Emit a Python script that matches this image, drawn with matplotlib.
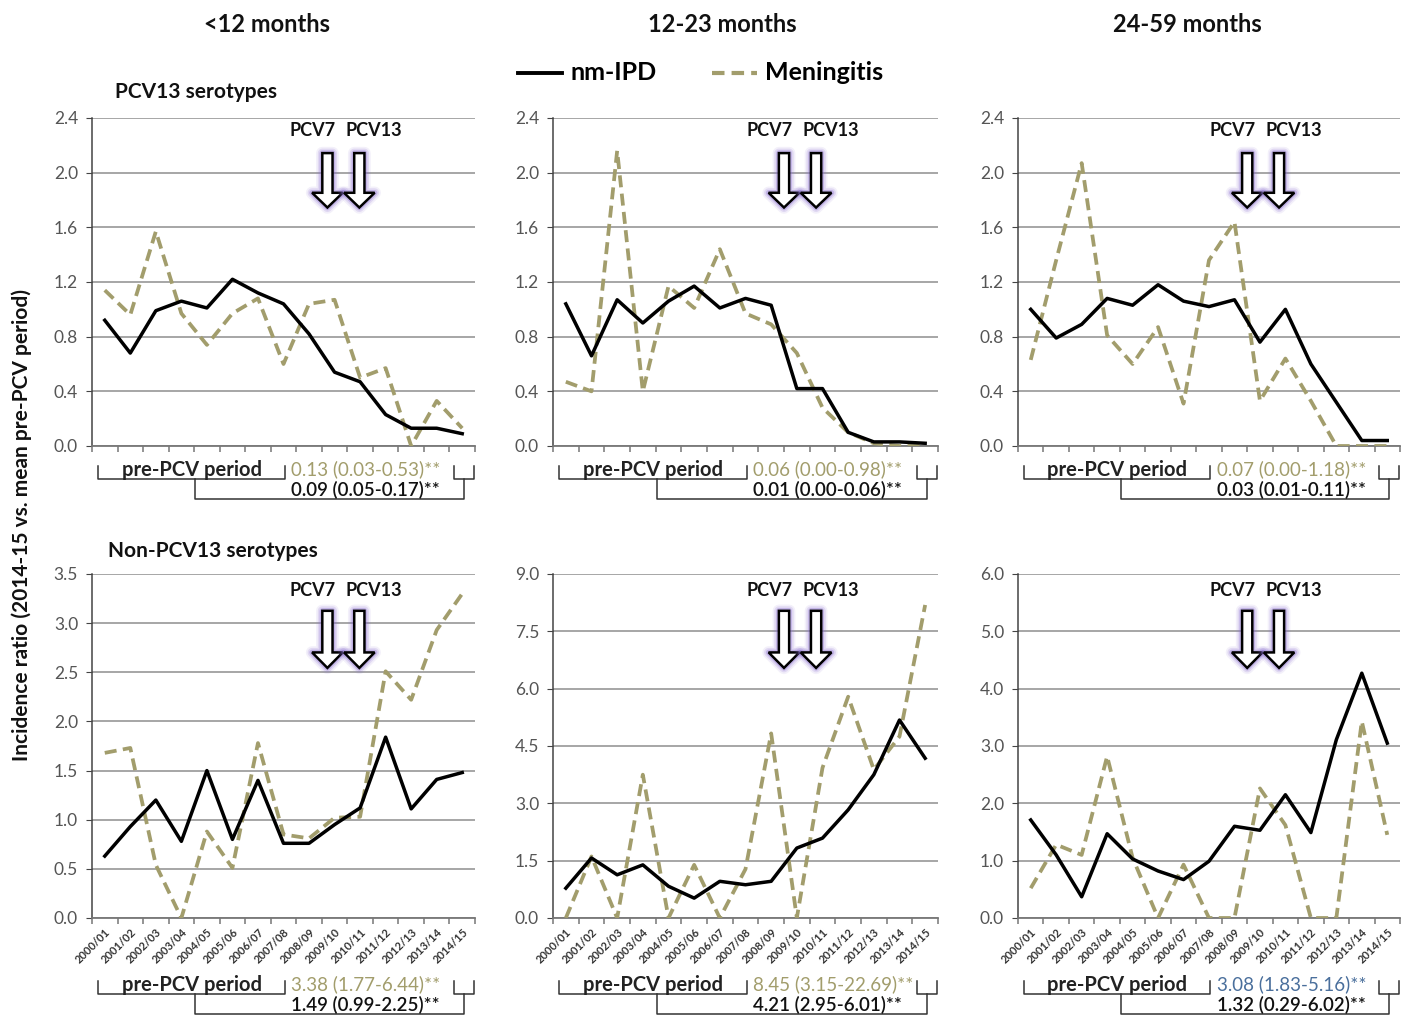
import matplotlib
matplotlib.use("Agg")
import matplotlib.pyplot as plt
import matplotlib.patheffects as pe
from matplotlib.patches import Polygon
from matplotlib.transforms import blended_transform_factory
import numpy as np

plt.rcParams['font.family'] = ['Lato', 'DejaVu Sans']

seasons = ['2000/01', '2001/02', '2002/03', '2003/04', '2004/05', '2005/06',
           '2006/07', '2007/08', '2008/09', '2009/10', '2010/11', '2011/12',
           '2012/13', '2013/14', '2014/15']
age_groups = ['<12 months', '12-23 months', '24-59 months']

# incidence ratios vs. mean pre-PCV period, PCV13 serotypes
ipd_pcv13_lt12 = [0.92, 0.68, 0.99, 1.06, 1.01, 1.22, 1.12, 1.04, 0.82, 0.54, 0.47, 0.23, 0.13, 0.13, 0.09]
men_pcv13_lt12 = [1.14, 0.96, 1.57, 0.97, 0.74, 0.97, 1.08, 0.60, 1.04, 1.07, 0.50, 0.57, 0.00, 0.33, 0.13]
ipd_pcv13_12_23 = [1.04, 0.66, 1.07, 0.90, 1.06, 1.17, 1.01, 1.08, 1.03, 0.42, 0.42, 0.10, 0.03, 0.03, 0.02]
men_pcv13_12_23 = [0.47, 0.40, 2.16, 0.40, 1.17, 1.01, 1.44, 0.97, 0.89, 0.68, 0.28, 0.10, 0.02, 0.00, 0.00]
ipd_pcv13_24_59 = [1.00, 0.79, 0.89, 1.08, 1.03, 1.18, 1.06, 1.02, 1.07, 0.76, 1.00, 0.60, 0.32, 0.04, 0.04]
men_pcv13_24_59 = [0.63, 1.36, 2.07, 0.81, 0.60, 0.87, 0.31, 1.36, 1.64, 0.33, 0.64, 0.33, 0.00, 0.00, 0.00]

# non-PCV13 serotypes
ipd_non_lt12 = [0.63, 0.93, 1.20, 0.78, 1.50, 0.80, 1.40, 0.76, 0.76, 0.95, 1.12, 1.84, 1.11, 1.41, 1.48]
men_non_lt12 = [1.68, 1.73, 0.54, 0.00, 0.88, 0.51, 1.78, 0.85, 0.81, 1.02, 1.03, 2.51, 2.22, 2.93, 3.30]
ipd_non_12_23 = [0.78, 1.57, 1.13, 1.39, 0.83, 0.52, 0.96, 0.87, 0.96, 1.83, 2.09, 2.83, 3.75, 5.18, 4.18]
men_non_12_23 = [0.00, 1.61, 0.00, 3.75, 0.00, 1.39, 0.00, 1.28, 4.83, 0.00, 3.93, 5.79, 3.88, 4.75, 8.19]
ipd_non_24_59 = [1.71, 1.10, 0.37, 1.47, 1.03, 0.82, 0.67, 0.99, 1.60, 1.53, 2.15, 1.49, 3.11, 4.27, 3.05]
men_non_24_59 = [0.52, 1.28, 1.10, 2.82, 1.05, 0.00, 0.93, 0.00, 0.00, 2.26, 1.62, 0.00, 0.00, 3.43, 1.45]

ipd_rows = [[ipd_pcv13_lt12, ipd_pcv13_12_23, ipd_pcv13_24_59],
            [ipd_non_lt12, ipd_non_12_23, ipd_non_24_59]]
men_rows = [[men_pcv13_lt12, men_pcv13_12_23, men_pcv13_24_59],
            [men_non_lt12, men_non_12_23, men_non_24_59]]

# 2014-15 incidence ratio (95% CI)
men_stats = [['0.13 (0.03-0.53)**', '0.06 (0.00-0.98)**', '0.07 (0.00-1.18)**'],
             ['3.38 (1.77-6.44)**', '8.45 (3.15-22.69)**', '3.08 (1.83-5.16)**']]
ipd_stats = [['0.09 (0.05-0.17)**', '0.01 (0.00-0.06)**', '0.03 (0.01-0.11)**'],
             ['1.49 (0.99-2.25)**', '4.21 (2.95-6.01)**', '1.32 (0.29-6.02)**']]
y_max = [[2.4, 2.4, 2.4], [3.5, 9.0, 6.0]]
y_step = [[0.4, 0.4, 0.4], [0.5, 1.5, 1.0]]

OLIVE = '#a29d6c'
BLUE = '#4a6f9c'
GRID = '#a6a6a6'
GLOW = '#8a6fd0'

W, H = 1404, 1016
fig = plt.figure(figsize=(W / 100, H / 100), dpi=100)

col_px = [(92, 475), (553, 938), (1018, 1400)]
row_px = [(118, 446), (574, 918)]
title_px = [267, 722, 1187]
arrow_shift = [0.22, 0.0, 0.0]

x = np.arange(len(seasons))


def draw_arrow(ax, xc):
    tr = blended_transform_factory(ax.transData, ax.transAxes)
    sw, hw = 0.2, 0.6
    top, base, tip = 0.893, 0.772, 0.727
    pts = [(xc - sw, top), (xc + sw, top), (xc + sw, base), (xc + hw, base),
           (xc, tip), (xc - hw, base), (xc - sw, base)]
    poly = Polygon(pts, closed=True, transform=tr, facecolor='white',
                   edgecolor='black', lw=1.8, zorder=6, clip_on=False)
    poly.set_path_effects([
        pe.Stroke(linewidth=9, foreground=GLOW, alpha=0.10, joinstyle='round'),
        pe.Stroke(linewidth=6.5, foreground=GLOW, alpha=0.18, joinstyle='round'),
        pe.Stroke(linewidth=4, foreground=GLOW, alpha=0.35, joinstyle='round'),
        pe.Normal()])
    ax.add_patch(poly)


def bracket(ax, x0, x1, y_top, y_bot, tr):
    ax.plot([x0, x0, x1, x1], [y_top, y_bot, y_bot, y_top], color='#333333',
            lw=1.1, transform=tr, clip_on=False)


for r in range(2):
    for c in range(3):
        x0p, x1p = col_px[c]
        y0p, y1p = row_px[r]
        ax = fig.add_axes([x0p / W, 1 - y1p / H, (x1p - x0p) / W, (y1p - y0p) / H])
        ax.plot(x, ipd_rows[r][c], color='black', lw=2.5, zorder=4)
        ax.plot(x, men_rows[r][c], color=OLIVE, lw=2.7, dashes=(3.2, 1.7),
                zorder=3)

        ym = y_max[r][c]
        ax.set_ylim(0, ym)
        ax.set_xlim(-0.5, len(seasons) - 0.5)
        yt = np.arange(0, ym + 1e-9, y_step[r][c])
        ax.set_yticks(yt)
        ax.set_yticklabels([f'{v:.1f}' for v in yt], fontsize=12.5, color='#555555')
        ax.yaxis.grid(True, color=GRID, lw=1.4)
        ax.set_axisbelow(True)
        for s in ['top', 'right']:
            ax.spines[s].set_visible(False)
        ax.spines['left'].set_color('#444444')
        ax.spines['bottom'].set_color('#777777')
        ax.spines['left'].set_linewidth(1.1)
        ax.spines['bottom'].set_linewidth(1.3)
        ax.tick_params(axis='y', length=4, color='#444444', pad=6)

        # tick marks sit between seasons, labels under the seasons
        ax.set_xticks(np.arange(-0.5, len(seasons)), labels=[])
        ax.set_xticks(x, minor=True)
        ax.tick_params(axis='x', which='major', length=4, color='#777777', width=1.1)
        ax.tick_params(axis='x', which='minor', length=0, pad=6)
        if r == 1:
            ax.set_xticklabels(seasons, minor=True, rotation=45, ha='right',
                               rotation_mode='anchor', fontsize=8,
                               fontweight='bold', color='#333333')

        # vaccine introduction arrows
        tr = blended_transform_factory(ax.transData, ax.transAxes)
        s = arrow_shift[c]
        draw_arrow(ax, 8.5 + s)
        draw_arrow(ax, 9.75 + s)
        ly = 0.963 if r == 0 else 0.953
        ax.text(7.93 + s, ly, 'PCV7', transform=tr, ha='center', va='center',
                fontsize=13, fontweight='bold', color='#111111')
        ax.text(10.33 + s, ly, 'PCV13', transform=tr, ha='center', va='center',
                fontsize=13, fontweight='bold', color='#111111')

        # period brackets and 2014-15 ratios below the axis
        hpx = y1p - y0p
        off = 0 if r == 0 else 43

        def yf(px):
            return -(px + off) / hpx

        bracket(ax, -0.27, 7.05, yf(20), yf(33), tr)
        bracket(ax, 13.68, 14.45, yf(20), yf(33), tr)
        ax.plot([3.55, 3.55, 14.08, 14.08], [yf(33), yf(53), yf(53), yf(33)],
                color='#333333', lw=1.1, transform=tr, clip_on=False)
        ax.text(3.4, yf(30), 'pre-PCV period', transform=tr, ha='center',
                va='baseline', fontsize=14.5, fontweight='bold', color='#222222')
        mcol = BLUE if (r == 1 and c == 2) else OLIVE
        ax.text(7.3, yf(29), men_stats[r][c], transform=tr, ha='left',
                va='baseline', fontsize=13.5, color=mcol)
        ax.text(7.3, yf(50), ipd_stats[r][c], transform=tr, ha='left',
                va='baseline', fontsize=13.5, fontweight='semibold',
                color='#111111')

# column titles
for c, name in enumerate(age_groups):
    fig.text(title_px[c] / W, 1 - 24 / H, name, ha='center', va='center',
             fontsize=17, fontweight='bold', color='#111111')

fig.text(115 / W, 1 - 92 / H, 'PCV13 serotypes', ha='left', va='center',
         fontsize=15, fontweight='bold', color='#111111')
fig.text(108 / W, 1 - 551 / H, 'Non-PCV13 serotypes', ha='left', va='center',
         fontsize=15, fontweight='bold', color='#111111')
fig.text(22 / W, 1 - 525 / H, 'Incidence ratio (2014-15 vs. mean pre-PCV period)',
         rotation=90, ha='center', va='center', fontsize=15, fontweight='bold',
         color='#111111')

# legend
lx = fig.add_axes([0, 0, 1, 1], facecolor='none')
lx.set_xlim(0, W)
lx.set_ylim(H, 0)
lx.axis('off')
lx.plot([518, 562], [73, 73], color='black', lw=2.8)
lx.text(570, 73, 'nm-IPD', ha='left', va='center', fontsize=18, fontweight='bold')
lx.plot([712, 757], [73, 73], color=OLIVE, lw=3.0, dashes=(3.0, 1.7))
lx.text(765, 73, 'Meningitis', ha='left', va='center', fontsize=18, fontweight='bold')

fig.savefig('out.png', dpi=100)
